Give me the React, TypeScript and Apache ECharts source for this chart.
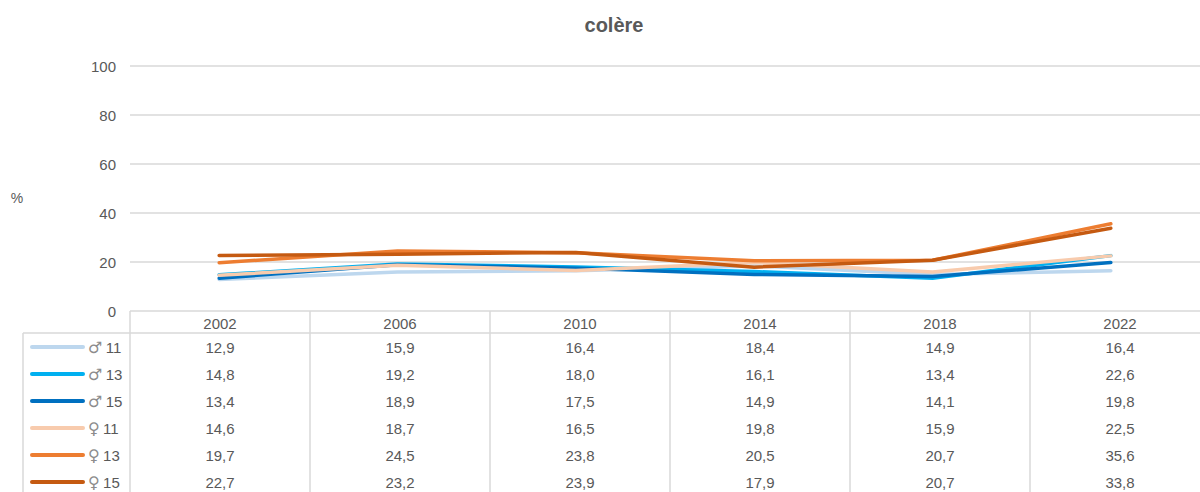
import React, { useEffect, useRef } from "react";
import * as echarts from "echarts";

const title = "colère";
const years = ["2002", "2006", "2010", "2014", "2018", "2022"];
const yTicks = [0, 20, 40, 60, 80, 100];
const seriesSymbols = ["♂", "♂", "♂", "♀", "♀", "♀"];
const seriesAges = ["11", "13", "15", "11", "13", "15"];
const m11 = [12.9, 15.9, 16.4, 18.4, 14.9, 16.4];
const m13 = [14.8, 19.2, 18.0, 16.1, 13.4, 22.6];
const m15 = [13.4, 18.9, 17.5, 14.9, 14.1, 19.8];
const f11 = [14.6, 18.7, 16.5, 19.8, 15.9, 22.5];
const f13 = [19.7, 24.5, 23.8, 20.5, 20.7, 35.6];
const f15 = [22.7, 23.2, 23.9, 17.9, 20.7, 33.8];
const seriesData = [m11, m13, m15, f11, f13, f15];
const colors = ["#BDD7EE", "#00B0F0", "#0070C0", "#F8CBAD", "#ED7D31", "#C55A11"];

const FONT = "'Liberation Sans', Arial, sans-serif";
const TEXT = "#595959";
const LINE = "#D9D9D9";

export default function App() {
  const ref = useRef<HTMLDivElement>(null);
  useEffect(() => {
    if (!ref.current) return;
    const chart = echarts.init(ref.current, null, { renderer: "svg" });

    const gridLeft = 130;
    const gridTop = 66;
    const gridH = 245;
    const colW = 180;
    const gridW = colW * years.length;
    const tableTop = gridTop + gridH; // 311
    const headerBottom = 333;
    const rowH = 27;
    const firstRowY = 347;
    const tableLeft = 23;
    const tableBottom = 500;

    const graphics: any[] = [];
    graphics.push({
      type: "line",
      shape: { x1: tableLeft, y1: headerBottom, x2: gridLeft + gridW, y2: headerBottom },
      style: { stroke: LINE, lineWidth: 1.5 },
      silent: true,
    });
    graphics.push({
      type: "line",
      shape: { x1: tableLeft, y1: headerBottom, x2: tableLeft, y2: tableBottom },
      style: { stroke: LINE, lineWidth: 1.5 },
      silent: true,
    });
    for (let i = 0; i <= years.length; i++) {
      const x = gridLeft + i * colW;
      graphics.push({
        type: "line",
        shape: { x1: x, y1: tableTop, x2: x, y2: tableBottom },
        style: { stroke: LINE, lineWidth: 1.5 },
        silent: true,
      });
    }
    years.forEach((y, i) => {
      graphics.push({
        type: "text",
        x: gridLeft + i * colW + colW / 2,
        y: (tableTop + headerBottom) / 2 + 1,
        style: { text: y, fill: TEXT, font: `15px ${FONT}`, align: "center", verticalAlign: "middle" },
        silent: true,
      });
    });
    seriesData.forEach((row, r) => {
      const cy = firstRowY + r * rowH;
      graphics.push({
        type: "line",
        shape: { x1: 32, y1: cy, x2: 83, y2: cy },
        style: { stroke: colors[r], lineWidth: 4, lineCap: "round" },
        silent: true,
      });
      graphics.push({
        type: "text",
        x: 88,
        y: cy,
        style: {
          text: `{s|${seriesSymbols[r]}} {a|${seriesAges[r]}}`,
          align: "left",
          verticalAlign: "middle",
          rich: {
            s: { fill: "#8C8C8C", fontFamily: "'DejaVu Sans', sans-serif", fontSize: 16 },
            a: { fill: TEXT, fontFamily: FONT, fontSize: 15 },
          },
        },
        silent: true,
      });
      row.forEach((v, i) => {
        graphics.push({
          type: "text",
          x: gridLeft + i * colW + colW / 2,
          y: cy,
          style: {
            text: v.toFixed(1).replace(".", ","),
            fill: TEXT,
            font: `15px ${FONT}`,
            align: "center",
            verticalAlign: "middle",
          },
          silent: true,
        });
      });
    });
    graphics.push({
      type: "text",
      x: 17,
      y: 198,
      style: { text: "%", fill: TEXT, font: `14px ${FONT}`, align: "center", verticalAlign: "middle" },
      silent: true,
    });

    chart.setOption({
      animation: false,
      title: {
        text: title,
        left: 609,
        top: 10,
        textAlign: "center",
        textStyle: { color: TEXT, fontFamily: FONT, fontSize: 20, fontWeight: "bold" },
      },
      grid: { left: gridLeft, top: gridTop, width: gridW, height: gridH },
      xAxis: {
        type: "category",
        data: years,
        boundaryGap: true,
        axisLine: { show: false },
        axisTick: { show: false },
        axisLabel: { show: false },
      },
      yAxis: {
        type: "value",
        min: yTicks[0],
        max: yTicks[yTicks.length - 1],
        interval: 20,
        axisLine: { show: false },
        axisTick: { show: false },
        axisLabel: { color: TEXT, fontFamily: FONT, fontSize: 15, margin: 14 },
        splitLine: { lineStyle: { color: LINE, width: 1.5 } },
      },
      series: seriesData.map((d, i) => ({
        name: `${seriesSymbols[i]} ${seriesAges[i]}`,
        type: "line",
        data: d,
        symbol: "none",
        lineStyle: { color: colors[i], width: 3.5, cap: "round", join: "round" },
        itemStyle: { color: colors[i] },
      })),
      graphic: graphics,
    });
    return () => chart.dispose();
  }, []);
  return (
    <div
      ref={ref}
      style={{ position: "absolute", left: 0, top: 0, width: 1200, height: 492, background: "#fff" }}
    />
  );
}
